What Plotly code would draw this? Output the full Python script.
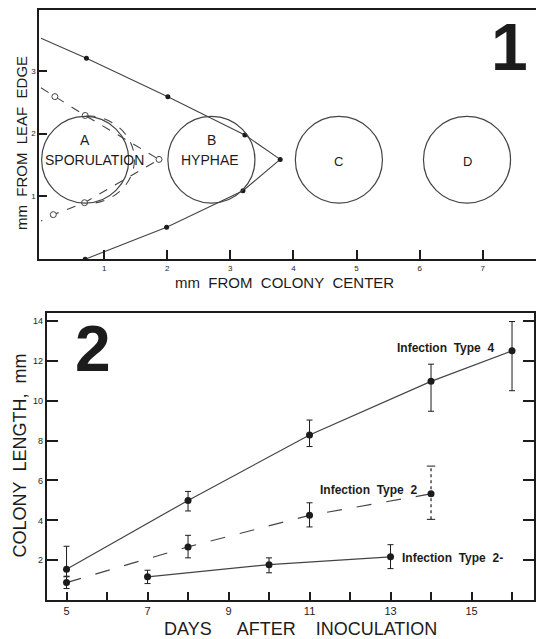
import plotly.graph_objects as go

# ---------------- Panel 1 data (mm) ----------------
hy_up_x = [0.0, 0.72, 2.01, 3.23, 3.79]
hy_up_y = [3.52, 3.20, 2.59, 1.98, 1.59]
hy_lo_x = [3.79, 3.20, 1.99, 0.70]
hy_lo_y = [1.59, 1.09, 0.51, 0.0]
hy_dot_x = [0.72, 2.01, 3.23, 3.79, 3.20, 1.99, 0.70]
hy_dot_y = [3.20, 2.59, 1.98, 1.59, 1.09, 0.51, 0.0]

sp_x = [0.0, 0.22, 0.70, 1.87, 0.69, 0.195, 0.0]
sp_y = [2.73, 2.59, 2.29, 1.59, 0.90, 0.71, 0.61]
sp_dot_x = [0.22, 0.70, 1.87, 0.69, 0.195]
sp_dot_y = [2.59, 2.29, 1.59, 0.90, 0.71]

circle_labels = ["A", "B", "C", "D"]
circle_cx = [0.70, 2.70, 4.72, 6.75]
circle_cy = 1.585
circle_r = 0.69

# ---------------- Panel 2 data ----------------
days4 = [5, 8, 11, 14, 16]
len4 = [1.55, 5.00, 8.28, 10.97, 12.50]
err4_plus = [1.15, 0.45, 0.75, 0.86, 1.47]
err4_minus = [0.35, 0.53, 0.58, 1.50, 2.00]

days2 = [5, 8, 11, 14]
len2 = [0.88, 2.67, 4.25, 5.33]
err2_plus = [0.29, 0.58, 0.63, 1.39]
err2_minus = [0.30, 0.55, 0.58, 1.28]

days2m = [7, 10, 13]
len2m = [1.17, 1.78, 2.17]
err2m_plus = [0.33, 0.34, 0.61]
err2m_minus = [0.34, 0.41, 0.59]

FONT = "Liberation Sans, Arial, sans-serif"
INK = "#1c1c1c"
LINE = "#444444"

# page offset (body margin) compensation
OFF = 8
W, H = 544 - OFF, 639 - OFF
def px(P):
    return min(1.0, max(0.0, (P - OFF) / W))
def py(P):
    return min(1.0, max(0.0, 1 - (P - OFF) / H))

fig = go.Figure()

# Panel 1 traces
fig.add_trace(go.Scatter(x=hy_up_x, y=hy_up_y, mode="lines", line=dict(color=LINE, width=1.1),
                         xaxis="x", yaxis="y", showlegend=False, hoverinfo="skip"))
fig.add_trace(go.Scatter(x=hy_lo_x, y=hy_lo_y, mode="lines", line=dict(color=LINE, width=1.1),
                         xaxis="x", yaxis="y", showlegend=False, hoverinfo="skip"))
fig.add_trace(go.Scatter(x=hy_dot_x, y=hy_dot_y, mode="markers",
                         marker=dict(color=INK, size=5), xaxis="x", yaxis="y", showlegend=False))
fig.add_trace(go.Scatter(x=sp_x, y=sp_y, mode="lines", line=dict(color=LINE, width=1.1, dash="dash"),
                         xaxis="x", yaxis="y", showlegend=False, hoverinfo="skip"))
fig.add_trace(go.Scatter(x=sp_dot_x, y=sp_dot_y, mode="markers",
                         marker=dict(color="white", size=6, line=dict(color=LINE, width=1)),
                         xaxis="x", yaxis="y", showlegend=False))

# Panel 2 traces
eb = dict(type="data", symmetric=False, thickness=1, width=3, color=INK)
fig.add_trace(go.Scatter(x=days4, y=len4, mode="lines+markers",
                         line=dict(color=LINE, width=1.2), marker=dict(color=INK, size=7),
                         error_y=dict(array=err4_plus, arrayminus=err4_minus, **eb),
                         xaxis="x2", yaxis="y2", showlegend=False))
dotted_idx = 3
e2p = [0 if i == dotted_idx else v for i, v in enumerate(err2_plus)]
e2m = [0 if i == dotted_idx else v for i, v in enumerate(err2_minus)]
fig.add_trace(go.Scatter(x=days2, y=len2, mode="lines+markers",
                         line=dict(color=LINE, width=1.2, dash="longdash"), marker=dict(color=INK, size=7),
                         error_y=dict(array=e2p, arrayminus=e2m, **eb),
                         xaxis="x2", yaxis="y2", showlegend=False))
dx = days2[dotted_idx]
dy_lo = len2[dotted_idx] - err2_minus[dotted_idx]
dy_hi = len2[dotted_idx] + err2_plus[dotted_idx]
fig.add_trace(go.Scatter(x=[dx, dx], y=[dy_lo, dy_hi], mode="lines+markers",
                         line=dict(color=INK, width=1.2, dash="dot"),
                         marker=dict(symbol="line-ew", size=6, line=dict(color=INK, width=1)),
                         xaxis="x2", yaxis="y2", showlegend=False, hoverinfo="skip"))
fig.add_trace(go.Scatter(x=days2m, y=len2m, mode="lines+markers",
                         line=dict(color=LINE, width=1.2), marker=dict(color=INK, size=7),
                         error_y=dict(array=err2m_plus, arrayminus=err2m_minus, **eb),
                         xaxis="x2", yaxis="y2", showlegend=False))

shapes = []
for cx in circle_cx:
    shapes.append(dict(type="circle", xref="x", yref="y", x0=cx - circle_r, x1=cx + circle_r,
                       y0=circle_cy - circle_r, y1=circle_cy + circle_r,
                       line=dict(color=LINE, width=1.2)))
# dashed right half-arc around circle A
k = 0.5523
acx, acy, arx, ary = circle_cx[0] + 0.02, circle_cy, 0.76, 0.70
path = (f"M {acx},{acy+ary} C {acx+k*arx},{acy+ary} {acx+arx},{acy+k*ary} {acx+arx},{acy} "
        f"C {acx+arx},{acy-k*ary} {acx+k*arx},{acy-ary} {acx},{acy-ary}")
shapes.append(dict(type="path", xref="x", yref="y", path=path, line=dict(color=LINE, width=1.1, dash="dash")))

ann = []
def A(text, x, y, size, xref="paper", yref="paper", angle=0, bold=False, xanchor="center"):
    ann.append(dict(text=f"<b>{text}</b>" if bold else text, x=x, y=y, xref=xref, yref=yref,
                    showarrow=False, textangle=angle, xanchor=xanchor, yanchor="middle",
                    font=dict(family=FONT, size=size, color=INK)))

# panel 1 labels
A("A", circle_cx[0], 1.90, 14, "x", "y")
A("SPORULATION", 0.84, 1.585, 14, "x", "y")
A("B", circle_cx[1], 1.90, 14, "x", "y")
A("HYPHAE", 2.68, 1.585, 14, "x", "y")
A("C", circle_cx[2], 1.55, 13, "x", "y")
A("D", circle_cx[3], 1.55, 13, "x", "y")
nb = "\u00a0"
A(f"mm{nb*2}FROM{nb*2}LEAF{nb*2}EDGE", px(20.8), py(141.7), 15, angle=-90)
A(f"mm{nb*2}FROM{nb*2}COLONY{nb*2}CENTER", px(284.6), py(281), 15)
A("1", px(509), py(45), 66, bold=True)

# panel 2 labels
A(f"COLONY{nb*2}LENGTH,{nb*2}mm", px(20), py(455), 18, angle=-90)
A(f"DAYS{nb*5}AFTER{nb*4}INOCULATION", px(300), py(629), 18)
A("2", px(92.5), py(348), 64, bold=True)
A(f"Infection{nb*2}Type{nb*2}4", px(445), py(347.3), 12, bold=True)
A(f"Infection{nb*2}Type{nb*2}2", px(368), py(489.3), 12, bold=True)
A(f"Infection{nb*2}Type{nb*2}2-", px(452.5), py(557.7), 12, bold=True)

axis_common = dict(showgrid=False, zeroline=False, linecolor=INK, linewidth=2, ticks="inside",
                   tickcolor=INK, tickwidth=1.5)

p2_xticks = list(range(5, 17))
p2_xtext = [str(v) if v % 2 == 1 else "" for v in p2_xticks]
p2_yticks = [2, 4, 6, 8, 10, 12, 14]

fig.update_layout(
    width=W, height=H, margin=dict(l=0, r=0, t=0, b=0),
    paper_bgcolor="white", plot_bgcolor="white",
    shapes=shapes, annotations=ann,
    xaxis=dict(domain=[px(39.3), 1.0], range=[-0.027, 7.97], anchor="y", showline=True, mirror=True,
               tickvals=[1, 2, 3, 4, 5, 6, 7], ticklen=9, tickfont=dict(family=FONT, size=8, color=INK),
               **axis_common),
    yaxis=dict(domain=[py(258), py(8)], range=[0, 3.97], anchor="x", showline=True, mirror=False,
               tickvals=[1, 2, 3], ticklen=8, tickfont=dict(family=FONT, size=8, color=INK),
               **axis_common),
    xaxis2=dict(domain=[px(46.7), px(534.3)], range=[4.51, 16.55], anchor="y2", showline=True, mirror=True,
                tickvals=p2_xticks, ticktext=p2_xtext, ticklen=8,
                tickfont=dict(family=FONT, size=11, color=INK), **axis_common),
    yaxis2=dict(domain=[py(600), py(312.3)], range=[0, 14.38], anchor="x2", showline=True, mirror="ticks",
                tickvals=p2_yticks, ticklen=11, tickfont=dict(family=FONT, size=9, color=INK),
                **axis_common),
)

fig.write_html("out.html")
